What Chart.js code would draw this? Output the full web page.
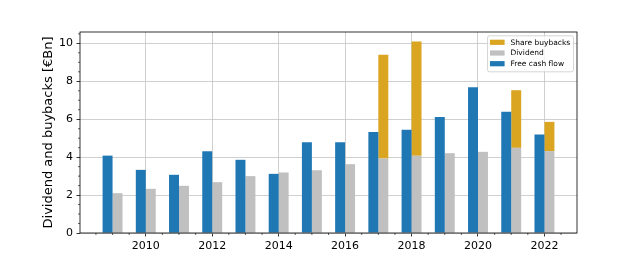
<!DOCTYPE html>
<html><head><meta charset="utf-8">
<script src="https://cdn.jsdelivr.net/npm/chart.js@4"></script>
<style>html,body{margin:0;padding:0;background:#fff}#wrap{width:640px;height:267px}</style>
</head><body><div id="wrap"><canvas id="c" width="640" height="267"></canvas></div>
<script>
const years = [2009,2010,2011,2012,2013,2014,2015,2016,2017,2018,2019,2020,2021,2022];
const freeCashFlow = [4.08,3.33,3.07,4.31,3.86,3.12,4.79,4.79,5.33,5.44,6.12,7.68,6.40,5.19];
const dividend = [2.10,2.33,2.49,2.68,3.00,3.19,3.31,3.63,3.93,4.07,4.21,4.28,4.49,4.32];
const shareBuybacks = [null,null,null,null,null,null,null,null,5.47,6.03,null,null,3.04,1.54];
const xTickLabels = [2010,2012,2014,2016,2018,2020,2022];
const yTickLabels = [0,2,4,6,8,10];
const seriesNames = {fcf:'Free cash flow', div:'Dividend', buy:'Share buybacks'};
const colors = {fcf:'#1f77b4', div:'#c0c0c0', buy:'#daa520'};

const FONT = '"DejaVu Sans", sans-serif';
const toXY = arr => years.map((yr,i)=>({x:yr, y:arr[i]}));

const frame = {
  id:'frame',
  afterDatasetsDraw(chart){
    const {ctx, chartArea:a, scales:{x,y}} = chart;
    ctx.save();
    ctx.strokeStyle='#000'; ctx.lineWidth=0.8;
    ctx.strokeRect(a.left, a.top, a.right-a.left, a.bottom-a.top);
    ctx.lineWidth=0.6;
    ctx.beginPath();
    for(let v=Math.ceil(x.min*2)/2; v<=x.max; v+=0.5){
      if(v%2===0) continue;
      const px=x.getPixelForValue(v);
      ctx.moveTo(px,a.bottom); ctx.lineTo(px,a.bottom+2);
    }
    for(let v=0.5; v<=y.max; v+=0.5){
      if(v%2===0) continue;
      const py=y.getPixelForValue(v);
      ctx.moveTo(a.left,py); ctx.lineTo(a.left-2,py);
    }
    ctx.stroke();
    ctx.restore();
  },
  afterDraw(chart){
    const {ctx, chartArea:a} = chart;
    const items = ['buy','div','fcf'];
    const fs=7.5;
    const w=86, h=36;
    const x0=a.right-4-w, y0=a.top+3.3;
    ctx.save();
    ctx.fillStyle='rgba(255,255,255,0.8)';
    ctx.strokeStyle='#cccccc'; ctx.lineWidth=0.8;
    ctx.beginPath();
    ctx.roundRect(x0+0.5,y0+0.5,w,h,2);
    ctx.fill(); ctx.stroke();
    ctx.font=fs+'px '+FONT;
    ctx.textBaseline='middle';
    items.forEach((k,i)=>{
      const cy=y0+7+i*10.7;
      ctx.fillStyle=colors[k];
      ctx.fillRect(x0+3,cy-2.6,14.6,5.2);
      ctx.fillStyle='#000';
      ctx.fillText(seriesNames[k], x0+23.5, cy+0.5);
    });
    ctx.restore();
  }
};

new Chart(document.getElementById('c'), {
  type:'bar',
  data:{datasets:[
    {label:seriesNames.fcf, data:toXY(freeCashFlow), backgroundColor:colors.fcf, stack:'a'},
    {label:seriesNames.div, data:toXY(dividend), backgroundColor:colors.div, stack:'b'},
    {label:seriesNames.buy, data:toXY(shareBuybacks), backgroundColor:colors.buy, stack:'b'}
  ]},
  options:{
    responsive:false, animation:false, devicePixelRatio:1,
    categoryPercentage:0.6, barPercentage:1.0,
    layout:{padding:{left:36, top:32, right:63, bottom:14}},
    plugins:{legend:{display:false}, tooltip:{enabled:false}},
    scales:{
      x:{type:'linear', min:2008.02, max:2022.98, offset:false,
         grid:{offset:false, color:'#c4c4c4', lineWidth:0.8, tickLength:3.5, tickColor:'#000', tickWidth:0.8},
         border:{display:false},
         ticks:{font:{family:FONT,size:11}, color:'#000', padding:3.5, maxRotation:0, autoSkip:false, callback:v=>String(v)},
         afterBuildTicks:s=>{s.ticks=xTickLabels.map(v=>({value:v}));},
         afterFit:s=>{s.height=20;}
      },
      y:{type:'linear', min:0, max:10.6,
         grid:{color:'#c4c4c4', lineWidth:0.8, tickLength:3.5, tickColor:'#000', tickWidth:0.8},
         border:{display:false},
         ticks:{font:{family:FONT,size:11}, color:'#000', padding:3.5, callback:v=>String(v)},
         afterBuildTicks:s=>{s.ticks=yTickLabels.map(v=>({value:v}));},
         afterFit:s=>{s.width=44;},
         title:{display:true, text:'Dividend and buybacks [€Bn]', font:{family:FONT,size:13}, color:'#000', padding:{top:5,bottom:4}}
      }
    }
  },
  plugins:[frame]
});
</script></body></html>
